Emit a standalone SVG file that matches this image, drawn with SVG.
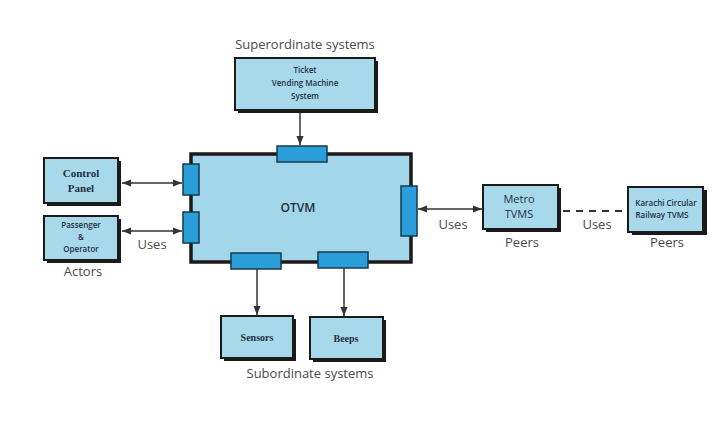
<svg xmlns="http://www.w3.org/2000/svg" width="720" height="427" viewBox="0 0 720 427">
<style>
.box{fill:#a8d9eb;stroke:#1a1a1a;stroke-width:2}
.shadow{fill:#1a1a1a}
.main{fill:#a2d6e8;stroke:#1a1a1a;stroke-width:3.5}
.port{fill:#2a9ed8;stroke:#17384f;stroke-width:1.5}
.line{stroke:#333;stroke-width:1.5;fill:none}
.dash{stroke:#333;stroke-width:2;fill:none;stroke-dasharray:7,6}
.lbl{font-family:"Open Sans","Liberation Sans",sans-serif;font-size:13px;fill:#4a4a4a;text-anchor:middle}
.sm{font-family:"Open Sans","Liberation Sans",sans-serif;font-size:8px;font-weight:600;fill:#1e3040;text-anchor:middle}
.md{font-family:"Open Sans","Liberation Sans",sans-serif;font-size:11px;fill:#1e3040;text-anchor:middle}
.ser{font-family:"Liberation Serif",serif;font-weight:bold;fill:#1e3040;text-anchor:middle}
</style>
<defs>
<marker id="ah" viewBox="0 0 10 10" refX="10" refY="5" markerWidth="6" markerHeight="6" orient="auto-start-reverse">
<path d="M0,1 L10,5 L0,9 z" fill="#333"/>
</marker>
</defs>
<rect width="720" height="427" fill="#ffffff"/>

<g id="connectors">
<line class="line" x1="300" y1="111" x2="300" y2="145" marker-end="url(#ah)"/>
<line class="line" x1="122" y1="183" x2="182" y2="183" marker-start="url(#ah)" marker-end="url(#ah)"/>
<line class="line" x1="122" y1="231" x2="182" y2="231" marker-start="url(#ah)" marker-end="url(#ah)"/>
<line class="line" x1="418" y1="209" x2="482" y2="209" marker-start="url(#ah)" marker-end="url(#ah)"/>
<line class="dash" x1="563" y1="211" x2="628" y2="211"/>
<line class="line" x1="257" y1="269" x2="257" y2="315" marker-end="url(#ah)"/>
<line class="line" x1="344" y1="268" x2="344" y2="316" marker-end="url(#ah)"/>
<text class="lbl" x="152" y="249">Uses</text>
<text class="lbl" x="453" y="229">Uses</text>
<text class="lbl" x="597" y="229">Uses</text>
</g>

<g id="superordinate">
<text class="lbl" x="305" y="49">Superordinate systems</text>
<rect class="shadow" x="238" y="61" width="140" height="52"/>
<rect class="box" x="235" y="58" width="140" height="52"/>
<text class="sm" x="305" y="73">Ticket</text>
<text class="sm" x="305" y="86">Vending Machine</text>
<text class="sm" x="305" y="99">System</text>
</g>

<g id="otvm">
<rect class="main" x="191" y="154" width="220" height="108"/>
<text x="298" y="212" font-family="'Open Sans','Liberation Sans',sans-serif" font-size="12" font-weight="600" fill="#1e3040" text-anchor="middle">OTVM</text>
<rect class="port" x="277" y="146" width="50" height="16"/>
<rect class="port" x="183" y="164" width="16" height="31"/>
<rect class="port" x="183" y="212" width="16" height="31"/>
<rect class="port" x="401" y="186" width="16" height="50"/>
<rect class="port" x="231" y="253" width="50" height="16"/>
<rect class="port" x="318" y="252" width="50" height="16"/>
</g>

<g id="control-panel">
<rect class="shadow" x="47" y="161" width="74" height="45"/>
<rect class="box" x="44" y="158" width="74" height="45"/>
<text class="ser" x="81" y="177" font-size="11">Control</text>
<text class="ser" x="81" y="192" font-size="11">Panel</text>
</g>

<g id="passenger-operator">
<rect class="shadow" x="47" y="219" width="74" height="44"/>
<rect class="box" x="44" y="216" width="74" height="44"/>
<text class="sm" x="81" y="228">Passenger</text>
<text class="sm" x="81" y="240">&amp;</text>
<text class="sm" x="81" y="252">Operator</text>
<text class="lbl" x="83" y="276">Actors</text>
</g>

<g id="metro-tvms">
<rect class="shadow" x="486" y="188" width="75" height="44"/>
<rect class="box" x="483" y="185" width="75" height="44"/>
<text class="md" x="519" y="203">Metro</text>
<text class="md" x="519" y="218">TVMS</text>
<text class="lbl" x="522" y="247">Peers</text>
</g>

<g id="karachi-circular">
<rect class="shadow" x="632" y="190" width="75" height="45"/>
<rect class="box" x="628" y="187" width="75" height="45"/>
<text class="sm" x="666" y="206">Karachi Circular</text>
<text class="sm" x="662" y="218">Railway TVMS</text>
<text class="lbl" x="667" y="247">Peers</text>
</g>

<g id="sensors">
<rect class="shadow" x="224" y="319" width="72" height="42"/>
<rect class="box" x="221" y="316" width="72" height="42"/>
<text class="ser" x="257" y="341" font-size="10">Sensors</text>
</g>

<g id="beeps">
<rect class="shadow" x="313" y="320" width="73" height="42"/>
<rect class="box" x="310" y="317" width="73" height="42"/>
<text class="ser" x="346" y="342" font-size="10">Beeps</text>
</g>

<g id="subordinate">
<text class="lbl" x="310" y="378">Subordinate systems</text>
</g>
</svg>
